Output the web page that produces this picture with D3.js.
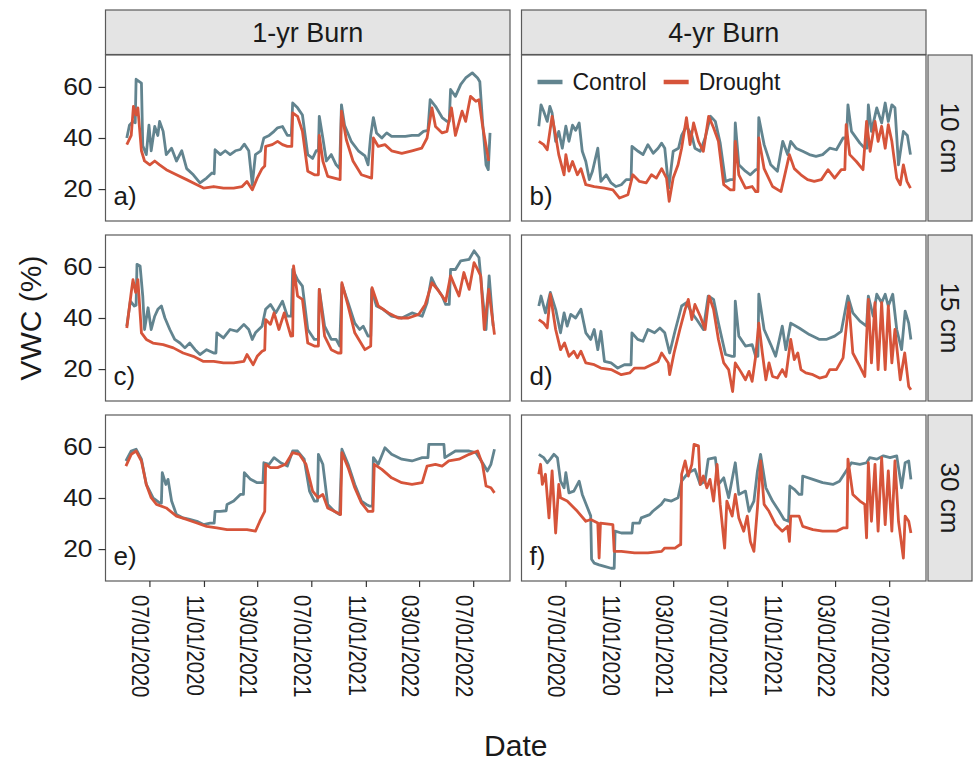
<!DOCTYPE html>
<html><head><meta charset="utf-8">
<script src="https://cdn.jsdelivr.net/npm/d3@7"></script>
<style>
body{margin:0;background:#fff}
text{font-family:"Liberation Sans",Arial,Helvetica,sans-serif;fill:#1a1a1a}
</style>
</head><body>
<svg id="chart" width="975" height="762"></svg>
<script>
// ---------------- data ----------------
const burns = ["1-yr Burn", "4-yr Burn"];
const depths = ["10 cm", "15 cm", "30 cm"];
const panelLabels = [["a)", "b)"], ["c)", "d)"], ["e)", "f)"]];
const seriesNames = ["Control", "Drought"];
const xTickLabels = ["07/01/2020", "11/01/2020", "03/01/2021", "07/01/2021", "11/01/2021", "03/01/2022", "07/01/2022"];
const yTickValues = [20, 40, 60];
const dayOrigin = "2020-05-11";   // day 0 of the records; entries are [day, VWC %]

const a_control = [[0,40],[6,45],[14,46.5],[19,46],[21,63],[33,61.5],[36,37],[44,33.5],[50,45],[55,35],[63,44.5],[70,41],[74,46.5],[82,42.6],[89,33.5],[101,36],[112,31],[124,35],[135,28],[150,25.6],[165,22.4],[180,24.3],[192,26.3],[197,26],[199,35.4],[211,33.5],[222,35],[233,33.5],[245,35],[256,35.5],[265,37.6],[275,35],[283,21.7],[290,33.5],[302,35],[309,40],[321,41],[332,42.6],[340,44],[351,44.5],[362,41],[371,41],[374,53.7],[385,51.8],[396,49],[408,33.5],[419,32],[427,35],[432,35],[434,48.5],[442,40],[450,31],[461,33.5],[472,29.5],[480,28],[484,53],[491,45],[506,38.7],[522,35],[537,33],[544,29.5],[550,41],[556,48],[563,42],[575,40],[586,42],[597,40.6],[612,40.6],[628,40.6],[643,41],[658,41],[669,42.6],[679,43],[684,55],[696,52.4],[711,48],[722,46.5],[727,46.5],[730,59],[741,56.3],[753,61],[764,63.5],[779,65.5],[791,63.5],[796,62],[802,46.5],[810,29.5],[815,27.6],[819,42]];
const a_drought = [[0,37.4],[10,41],[15,52.4],[21,49],[25,51.8],[33,35],[40,31],[52,29.5],[63,31],[74,29.5],[89,27.6],[112,25.6],[135,23.7],[158,21.7],[173,20.4],[196,21],[218,20.4],[241,20.4],[260,21],[271,23],[283,19.7],[294,24.3],[305,28],[311,29],[313,36.7],[328,37.4],[340,38.7],[351,37.4],[362,36.7],[372,36.7],[374,49.8],[385,48.5],[396,42.6],[408,27],[423,25.6],[432,25.6],[434,41],[442,31],[453,25],[468,24.3],[481,23.7],[484,50.5],[495,39.3],[510,31],[529,25.6],[552,24.3],[556,40],[567,36.7],[582,37.4],[597,35],[620,34],[643,35],[665,36],[677,40],[688,51.8],[696,44.5],[711,42],[722,42.6],[732,51.8],[741,41],[756,50.5],[764,46.5],[775,56.3],[787,54.4],[794,55],[802,45],[816,31]];

const b_control = [[-9,44.6],[-4,53],[2,50.5],[10,46.5],[16,52.4],[21,49.8],[29,38.7],[36,42.6],[44,36],[52,44.6],[59,38.7],[67,45],[74,43],[82,45.9],[89,34.8],[97,30.8],[105,23.7],[112,27],[124,36],[131,23],[143,25.6],[154,22.4],[165,21],[177,21.7],[188,23.7],[199,23.7],[201,36.7],[215,34.8],[226,33.5],[237,37.4],[249,34],[260,36],[268,38],[275,36],[284,20.4],[294,34.8],[306,36],[313,41],[324,44.6],[336,41],[343,36],[355,34.8],[366,40],[378,48.5],[389,46.5],[400,38],[412,23],[423,23.7],[431,23.7],[434,45.9],[442,29.5],[457,27],[468,25.6],[480,27.6],[485,27.6],[487,48],[499,37.4],[514,29.5],[529,27],[541,38.7],[552,33.5],[559,38.7],[571,36],[586,34.8],[601,33.5],[616,32.8],[631,33.5],[647,36],[662,35.4],[677,40],[685,40],[688,53],[696,42.6],[715,38],[726,36],[731,36],[734,53],[741,42.6],[753,51.8],[764,45.9],[772,53.7],[779,46.5],[787,53],[794,51.8],[802,29.5],[813,42.6],[822,41],[829,33.5]];
const b_drought = [[-9,38.7],[2,37.4],[10,35.4],[21,48.5],[29,41],[36,33.5],[48,25.6],[52,33.5],[59,27],[67,30.8],[78,25.6],[86,28],[97,21.7],[116,21],[139,20.4],[158,19.7],[173,16.5],[192,17.8],[203,25.6],[218,23],[233,22.4],[245,25.6],[256,24.3],[268,28],[279,24.3],[285,15.2],[294,24.3],[305,29.5],[313,36],[324,48],[332,37.4],[340,45.9],[351,38.7],[362,34.8],[374,48.5],[385,44],[396,38.7],[408,21.7],[423,19.7],[431,19.7],[434,38.7],[442,25.6],[457,20.4],[472,21],[480,19],[485,19],[487,40],[499,28],[518,21],[537,19],[544,24.3],[556,33.5],[567,28],[582,25.6],[597,23.7],[612,23],[628,23.7],[643,27.6],[658,24.3],[673,27.6],[681,27.6],[684,45.2],[692,33.5],[707,30.8],[722,27.6],[730,46.5],[738,34.8],[749,46.5],[756,38.7],[764,44.6],[772,36],[779,45.2],[787,38.7],[798,24.3],[806,21.7],[813,29.5],[821,23],[829,20.4]];

const c_control = [[0,36.8],[8,46.6],[17,44.7],[21,45],[23,61],[30,60.4],[36,48.6],[40,35.5],[48,44],[55,35.5],[63,40.7],[70,43.4],[78,44.7],[86,40],[97,35.5],[108,31.6],[120,30.2],[131,28.3],[142,30.2],[154,27.6],[165,25.7],[180,27.6],[196,26.3],[201,26.3],[203,34.2],[218,32.2],[233,35.5],[249,34.8],[264,37.5],[275,35.5],[283,31.6],[290,34.2],[305,36.8],[313,43.4],[324,45.3],[336,42],[351,46.6],[362,40.7],[371,40.7],[374,59],[385,55],[396,52.5],[408,35.5],[423,31.6],[432,31.6],[434,51.2],[446,36.8],[461,31.6],[472,31.6],[480,29],[485,53.2],[499,46],[514,38],[525,35.5],[533,36.8],[544,32.9],[550,32.9],[552,51.2],[563,44.7],[578,43.4],[597,40.7],[620,40],[643,42],[666,40.7],[677,46],[687,55.8],[696,52.5],[711,48.6],[719,45.3],[727,45.3],[730,59],[741,59],[753,62.4],[772,63],[783,66.3],[794,63.7],[802,48.6],[810,35.5],[817,56.5],[826,36.8]];
const c_drought = [[0,36.1],[10,50],[14,55],[20,50],[25,55],[33,34.2],[44,31.6],[59,30.2],[82,29.6],[105,28.3],[127,26.3],[150,25],[173,23],[196,23],[218,22.4],[241,22.4],[264,23],[271,25.7],[285,21.7],[294,25],[305,27],[311,27.5],[313,39.4],[324,37.5],[332,42],[343,35.5],[355,42],[370,32.9],[374,33],[376,60.4],[385,48.6],[396,47.3],[408,30.2],[423,29],[432,29],[434,51.2],[446,32.9],[461,27.6],[476,26.3],[483,26.3],[485,53.8],[499,44.7],[514,34.2],[537,27.6],[550,29],[553,51.9],[567,44.7],[590,42],[612,40],[635,40],[658,41.4],[673,45.3],[688,53.8],[703,50.6],[719,46.6],[730,56.5],[741,51.9],[749,48.6],[760,57.8],[772,51.2],[783,61.7],[791,59],[798,56.5],[806,35.5],[816,51.2],[829,33.5]];

const d_control = [[-9,44.7],[-4,48.6],[6,42],[17,50],[29,43.4],[40,34.2],[48,42],[55,36.8],[63,41.4],[74,40],[86,43.4],[97,34.2],[108,31.6],[116,35.5],[124,27.6],[131,34.8],[139,23],[154,22.4],[169,20.4],[184,21.7],[199,21.7],[201,34.2],[214,31.6],[226,30.9],[237,35.5],[252,34.2],[264,36.1],[275,34.2],[286,26.3],[298,34.8],[313,44.7],[324,46],[336,42],[347,39.4],[362,35.5],[373,48.6],[385,47.3],[396,38],[412,25.7],[427,25],[432,25],[434,46.6],[442,32.9],[457,29],[472,29.6],[480,25],[485,25],[487,49.3],[499,35.5],[514,29.6],[525,25],[540,36.8],[548,27.6],[559,38],[578,36.1],[601,33.5],[624,31.6],[639,31.6],[658,32.9],[673,34.8],[688,48.6],[699,42],[715,38.8],[730,36.8],[734,48.6],[745,40.7],[753,49.3],[764,46],[772,49.3],[779,44.7],[789,49.3],[798,35.5],[809,27.6],[817,42.7],[825,38],[830,31.6]];
const d_drought = [[-9,39.4],[2,38],[10,36.1],[17,49.3],[29,35.5],[40,27.6],[49,30.2],[59,25],[70,27],[78,24.4],[86,27],[97,22.4],[116,21.7],[131,20.4],[154,19.8],[177,17.8],[196,18.5],[207,20.4],[230,20.4],[245,21.7],[260,23],[268,26.3],[283,22.4],[286,17.8],[296,26.3],[309,35.5],[321,43.4],[328,47.3],[336,39.4],[343,45.3],[355,40.7],[366,35.5],[375,48.6],[385,43.4],[396,31.6],[408,22.4],[419,19.8],[428,11.2],[434,22.4],[446,19.1],[457,15.8],[465,19.1],[472,15.2],[480,25],[487,38],[495,26.3],[503,15.8],[510,22.4],[518,17.1],[529,16.5],[540,19.8],[548,17.1],[559,31.6],[567,23.7],[575,26.3],[582,19.8],[593,18.5],[609,17.8],[624,16.5],[639,17.1],[647,19.8],[662,19.8],[677,24.4],[690,46],[699,26.3],[715,21],[726,17.1],[734,47.3],[741,22.4],[749,46],[756,19.8],[764,46],[772,19.8],[779,44.7],[787,22.4],[794,35.5],[806,15.8],[816,26.3],[825,13.2],[830,11.9]];

const e_control = [[-2,54.5],[10,58.4],[21,59.1],[33,55.2],[44,45.3],[59,40.1],[74,38.1],[78,38],[80,49.9],[88,45.3],[93,47.3],[101,38.8],[112,33.5],[127,32.2],[142,31.6],[158,30.9],[173,29.6],[188,30.2],[197,30.2],[199,34.8],[211,34.8],[224,35],[226,37.5],[241,38.8],[256,41.4],[263,41.4],[265,49.9],[279,47.3],[294,46],[307,46],[309,53.8],[321,53.2],[332,55.8],[347,53.8],[362,52.5],[374,58.4],[385,58.4],[400,55.2],[412,42.7],[423,38.8],[430,38.8],[432,57.1],[442,53.2],[453,37.5],[468,34.8],[480,33.5],[485,59.1],[499,53.2],[514,45.3],[529,38.8],[540,37.5],[548,36.8],[554,36.8],[556,55.8],[567,53.2],[582,59.7],[597,57.1],[620,55.2],[643,54.5],[666,55.8],[679,55.8],[681,61],[696,61],[715,61],[717,55.8],[741,58.4],[756,58.4],[772,58.4],[787,57.8],[802,53.8],[813,50.6],[821,53.2],[829,59.1]];
const e_drought = [[-2,52.5],[10,57.1],[21,58.4],[33,54.5],[44,45.3],[55,40.1],[67,37.5],[89,36.1],[112,32.9],[135,31.6],[158,30.2],[180,28.9],[203,28.3],[226,27.6],[249,27.6],[271,27.6],[290,27],[300,30.9],[311,34.8],[313,53.2],[324,51.9],[340,51.9],[358,53.2],[374,57.8],[389,57.1],[404,53.2],[419,42.7],[431,40.1],[442,41.4],[453,36.1],[468,34.8],[482,33.5],[485,57.8],[499,51.9],[514,44],[529,38.1],[544,34.8],[555,34.8],[558,53.2],[575,51.2],[597,47.9],[620,46],[643,45.3],[666,46],[677,52.5],[696,53.2],[711,52.5],[726,54.5],[749,55.2],[772,57.1],[791,58.4],[802,53.2],[810,44.7],[821,44],[829,42]];

const f_control = [[-9,57.1],[2,55.8],[10,53.8],[17,55.2],[25,57.1],[33,55.8],[40,46.6],[48,44],[52,49.9],[59,42],[70,42.7],[82,46.6],[89,41.4],[101,36.1],[108,33],[110,16],[116,14.5],[127,13.8],[139,13.2],[154,12.5],[161,12.5],[163,27],[177,26.3],[196,26.3],[201,26.3],[203,30.2],[218,30.2],[222,32.2],[241,33.5],[248,34.8],[267,37.5],[275,39.4],[290,38.8],[305,40.1],[313,46.6],[328,49.9],[343,51.2],[355,45.3],[366,46.6],[373,55.2],[389,55.8],[396,45.3],[408,47.9],[419,40.1],[434,53.8],[442,41.4],[457,42.7],[465,34.8],[476,38.8],[484,50.6],[491,57.1],[503,44],[518,38.8],[533,34.8],[544,31.6],[554,30.9],[557,44.7],[567,43.4],[578,41.4],[584,41.4],[586,48.6],[609,47.3],[631,46],[654,45.3],[669,46.6],[684,50.6],[696,53.8],[715,53.2],[730,53.8],[737,55.8],[753,55.2],[768,56.5],[783,55.8],[798,56.5],[809,44],[817,53.8],[825,54.5],[830,47.3]];
const f_drought = [[-9,49.3],[-5,53.2],[-1,45.3],[6,49.3],[14,32.2],[21,50.6],[29,26.3],[36,45.3],[40,40.1],[55,38.8],[78,34.8],[97,30.9],[108,31.6],[124,30.2],[127,16.5],[130,30.2],[158,29.6],[161,19.1],[177,19.1],[207,18.5],[237,18.5],[268,19.1],[275,20.4],[298,20.4],[309,21.7],[311,21.7],[313,49.3],[321,54.5],[328,48.6],[336,53.2],[341,61],[351,60.4],[355,45.3],[362,48.6],[370,44],[377,47.3],[385,38.8],[393,53.2],[400,37.5],[410,20.4],[415,38.8],[427,32.9],[434,41.4],[442,32.2],[453,27],[461,32.9],[468,23],[476,19.1],[484,36.1],[491,54.5],[499,37.5],[510,34.8],[525,29.6],[540,27],[552,28.9],[556,23],[559,32.9],[578,32.9],[586,28.9],[609,27.6],[631,27],[662,27],[677,28.3],[686,28.3],[688,55.2],[699,41.4],[715,38.8],[726,37.5],[730,24.4],[734,53.8],[741,30.9],[749,53.2],[756,27],[764,55.8],[772,29.6],[779,50.6],[787,27],[794,54.5],[802,30.9],[813,16.5],[817,32.9],[825,30.9],[830,26.3]];

const panelData = [
  [[a_control, a_drought], [b_control, b_drought]],
  [[c_control, c_drought], [d_control, d_drought]],
  [[e_control, e_drought], [f_control, f_drought]]
];

// ---------------- layout & style ----------------
const colors = {Control: "#62848f", Drought: "#d6543a"};
const colX = [105.5, 521.5], panelW = 404.5;
const rowY = [55, 235, 415], panelH = 166;
const stripTop = 10, stripH = 44.5, rStripX = 928, rStripW = 44;

const svg = d3.select("#chart");
const parseTick = d3.timeParse("%m/%d/%Y");
const parseISO = d3.timeParse("%Y-%m-%d");
const origin = parseISO(dayOrigin);
const toDate = d => new Date(origin.getTime() + d * 864e5);

const x = d3.scaleTime().domain([parseISO("2020-03-24"), parseISO("2022-09-22")]).range([0, panelW]);
const y = d3.scaleLinear().domain([7.5, 72.5]).range([panelH, 0]);
const line = d3.line().x(p => x(toDate(p[0]))).y(p => y(p[1]));

// top strips
burns.forEach((b, j) => {
  const g = svg.append("g").attr("transform", `translate(${colX[j]},${stripTop})`);
  g.append("rect").attr("width", panelW).attr("height", stripH)
    .attr("fill", "#e4e4e4").attr("stroke", "#5a5a5a").attr("stroke-width", 1.2);
  g.append("text").attr("x", panelW / 2).attr("y", stripH / 2).attr("dy", "0.36em")
    .attr("text-anchor", "middle").attr("font-size", 27).text(b);
});

// right strips
depths.forEach((dname, i) => {
  const g = svg.append("g").attr("transform", `translate(${rStripX},${rowY[i]})`);
  g.append("rect").attr("width", rStripW).attr("height", panelH)
    .attr("fill", "#e4e4e4").attr("stroke", "#5a5a5a").attr("stroke-width", 1.2);
  g.append("text").attr("transform", `translate(${rStripW / 2},${panelH / 2}) rotate(90)`)
    .attr("dy", "0.36em").attr("text-anchor", "middle").attr("font-size", 26).text(dname);
});

// panels
depths.forEach((dname, i) => {
  burns.forEach((b, j) => {
    const g = svg.append("g").attr("transform", `translate(${colX[j]},${rowY[i]})`);
    g.append("rect").attr("width", panelW).attr("height", panelH).attr("fill", "#fff");
    panelData[i][j].forEach((series, k) => {
      g.append("path").datum(series).attr("d", line)
        .attr("fill", "none").attr("stroke", colors[seriesNames[k]])
        .attr("stroke-width", 2.8).attr("stroke-linejoin", "round");
    });
    g.append("rect").attr("width", panelW).attr("height", panelH)
      .attr("fill", "none").attr("stroke", "#5a5a5a").attr("stroke-width", 1.2);
    g.append("text").attr("x", 8).attr("y", 150).attr("font-size", 26).text(panelLabels[i][j]);

    if (j === 0) {
      const ax = g.append("g").call(d3.axisLeft(y).tickValues(yTickValues).tickSize(7).tickPadding(6));
      ax.select(".domain").remove();
      ax.selectAll("line").attr("stroke", "#333").attr("stroke-width", 1.2);
      ax.selectAll("text").attr("font-size", 24).attr("font-family", null).style("fill", "#1a1a1a")
        .attr("transform", "translate(-13,0) scale(1.1,1) translate(13,0)");
    }
    if (i === 2) {
      const ax = g.append("g").attr("transform", `translate(0,${panelH})`)
        .call(d3.axisBottom(x).tickValues(xTickLabels.map(parseTick))
          .tickFormat(d3.timeFormat("%m/%d/%Y")).tickSize(6));
      ax.select(".domain").remove();
      ax.selectAll("line").attr("stroke", "#333").attr("stroke-width", 1.2);
      ax.selectAll("text").attr("font-size", 20.5).attr("font-family", null).style("fill", "#1a1a1a")
        .attr("transform", "rotate(90) scale(1,1.2)").attr("text-anchor", "start")
        .attr("x", 14).attr("y", 0).attr("dy", "0.72em");
    }
    if (i === 0 && j === 1) {
      // legend
      const lg = g.append("g").attr("transform", "translate(16,27)");
      let cx = 0;
      seriesNames.forEach(name => {
        lg.append("line").attr("x1", cx).attr("x2", cx + 25).attr("y1", 0).attr("y2", 0)
          .attr("stroke", colors[name]).attr("stroke-width", 4.5);
        const t = lg.append("text").attr("x", cx + 35).attr("y", 0).attr("dy", "0.36em")
          .attr("font-size", 23).text(name);
        cx += 35 + t.node().getComputedTextLength() + 17;
      });
    }
  });
});

// axis titles
svg.append("text").attr("transform", `translate(41,${(rowY[0] + rowY[2] + panelH) / 2}) rotate(-90)`)
  .attr("text-anchor", "middle").attr("font-size", 30).text("VWC (%)");
svg.append("text").attr("x", (colX[0] + colX[1] + panelW) / 2).attr("y", 756)
  .attr("text-anchor", "middle").attr("font-size", 30).text("Date");
</script>
</body></html>
